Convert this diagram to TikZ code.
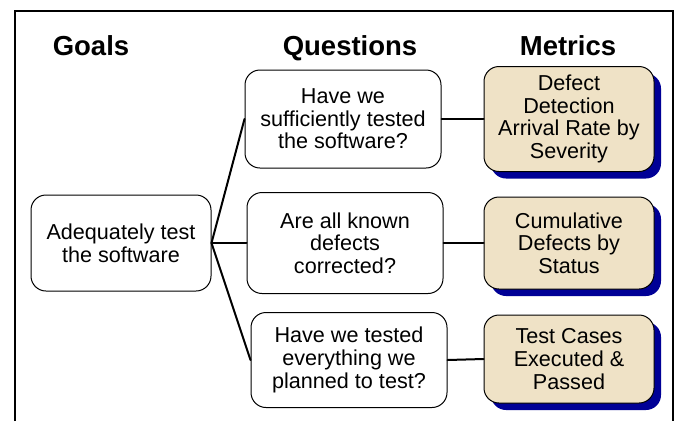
\documentclass[tikz,border=0pt]{standalone}
\usepackage{fontspec}
\setmainfont{Liberation Sans}
\usepackage{xcolor}
\usetikzlibrary{shadows}
\definecolor{frame}{HTML}{000000}
\definecolor{tan}{HTML}{EFE2C6}
\definecolor{navy}{HTML}{000096}
\tikzset{
  head/.style={anchor=base, font=\fontsize{27.5}{30}\selectfont\bfseries},
  box/.style={draw=frame, line width=1pt, rounded corners=15pt, align=center,
    inner sep=2pt, font=\fontsize{21.6}{22.6}\selectfont},
  qbox/.style={box, minimum width=196pt, minimum height=98pt},
  mbox/.style={box, fill=tan, minimum width=170pt,
    drop shadow={shadow xshift=7pt, shadow yshift=-7pt, fill=navy, opacity=1}},
  link/.style={draw=frame, line width=2pt, line cap=round},
}

\begin{document}
\begin{tikzpicture}[x=1pt,y=-1pt]
  \useasboundingbox (0,0) rectangle (682,421);
  \fill[white] (0,0) rectangle (682,421);

  % frame, open at the bottom
  \draw[frame, line width=2.6pt] (15,421) -- (15,11) -- (673,11) -- (673,421);

  % column heads
  \node[head] (hgoal) at (91,55) {Goals};
  \node[head] (hquest) at (350,55) {Questions};
  \node[head] (hmetr) at (568,55) {Metrics};

  % goal
  \node[box, minimum width=180pt, minimum height=96pt] (goal) at (121,243)
    {Adequately test\\the software};

  % questions
  \node[qbox] (q1) at (343,119) {Have we\\sufficiently tested\\the software?};
  \node[qbox, minimum height=101pt] (q2) at (345,243) {Are all known\\defects\\corrected?};
  \node[qbox, minimum height=95pt] (q3) at (349,360) {Have we tested\\everything we\\planned to test?};

  % metrics
  \node[mbox, minimum height=105pt] (m1) at (569,119)
    {Defect\\Detection\\Arrival Rate by\\Severity};
  \node[mbox, minimum height=92pt] (m2) at (569,243)
    {Cumulative\\Defects by\\Status};
  \node[mbox, minimum height=88pt] (m3) at (569,359)
    {Test Cases\\Executed \&\\Passed};

  % connectors
  \draw[link] (goal.east) -- (q1.west);
  \draw[link] (goal.east) -- (q2.west);
  \draw[link] (goal.east) -- (q3.west);
  \draw[link] (q1.east) -- (m1.west);
  \draw[link] (q2.east) -- (m2.west);
  \draw[link] (q3.east) -- (m3.west);
\end{tikzpicture}
\end{document}
